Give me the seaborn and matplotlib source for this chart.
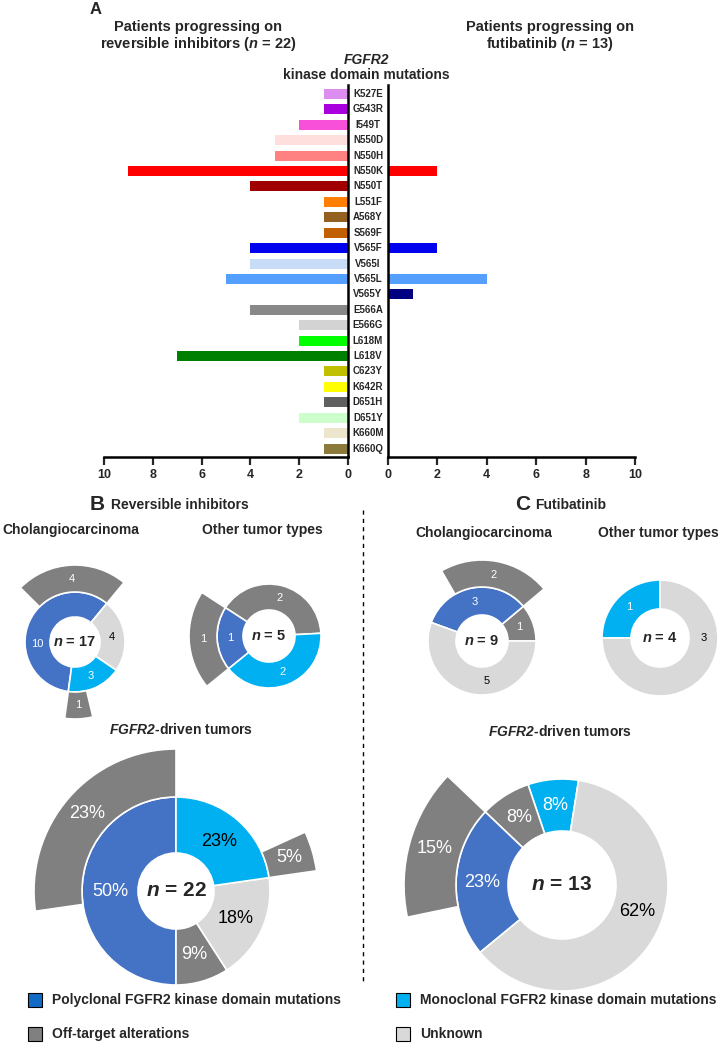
import matplotlib
matplotlib.use('Agg')
import matplotlib.pyplot as plt
from matplotlib.patches import Wedge, Rectangle
from matplotlib.transforms import blended_transform_factory
import numpy as np
import pandas as pd
import seaborn as sns

# Painel A: mutacoes no dominio quinase de FGFR2
mutations = ['K527E', 'G543R', 'I549T', 'N550D', 'N550H', 'N550K', 'N550T', 'L551F',
             'A568Y', 'S569F', 'V565F', 'V565I', 'V565L', 'V565Y', 'E566A', 'E566G',
             'L618M', 'L618V', 'C623Y', 'K642R', 'D651H', 'D651Y', 'K660M', 'K660Q']
reversible = [1, 1, 2, 3, 3, 9, 4, 1, 1, 1, 4, 4, 5, 0, 4, 2, 2, 7, 1, 1, 1, 2, 1, 1]
futibatinib = [0, 0, 0, 0, 0, 2, 0, 0, 0, 0, 2, 0, 4, 1, 0, 0, 0, 0, 0, 0, 0, 0, 0, 0]
mut_colors = ['#DD8CF0', '#AA00DD', '#F850D8', '#FFDEDE', '#FF8282', '#FF0000', '#A00000', '#FF8000',
              '#946020', '#C06000', '#0000EE', '#C8DCF8', '#55A0FF', '#000080', '#888888', '#D3D3D3',
              '#00FF00', '#008000', '#C0C000', '#FFFF00', '#606060', '#CCFFCC', '#EEE6CC', '#8B7A3A']

# Paineis B e C: categorias
cat_colors = {'poly': '#4472C4', 'mono': '#00B0F0', 'off': '#808080', 'unk': '#D9D9D9'}

b_chol_counts = [10, 3, 4]
b_chol_cats = ['poly', 'mono', 'unk']
b_chol_ext = [4, 1]
b_chol_ext_on = ['poly', 'mono']

b_other_counts = [2, 1, 2]
b_other_cats = ['off', 'poly', 'mono']
b_other_ext = [1]
b_other_ext_on = ['poly']

c_chol_counts = [1, 3, 5]
c_chol_cats = ['off', 'poly', 'unk']
c_chol_ext = [2]
c_chol_ext_on = ['poly']

c_other_counts = [1, 3]
c_other_cats = ['mono', 'unk']
c_other_ext = []
c_other_ext_on = []

b_all_counts = [11, 2, 4, 5]
b_all_cats = ['poly', 'off', 'unk', 'mono']
b_all_labels = ['50%', '9%', '18%', '23%']
b_all_ext = [6, 1]          # largura angular como aparece na figura
b_all_ext_on = ['poly', 'mono']
b_all_ext_labels = ['23%', '5%']

c_all_counts = [1, 1, 3, 8]
c_all_cats = ['mono', 'off', 'poly', 'unk']
c_all_labels = ['8%', '8%', '23%', '62%']
c_all_ext = [2]
c_all_ext_on = ['poly']
c_all_ext_labels = ['15%']

legend_labels = ['Polyclonal FGFR2 kinase domain mutations', 'Monoclonal FGFR2 kinase domain mutations',
                 'Off-target alterations', 'Unknown']
legend_colors = ['#116AC4', '#00B0F0', '#808080', '#D9D9D9']

sns.set_style('white')
plt.rcParams['font.family'] = ['Liberation Sans', 'DejaVu Sans']
plt.rcParams['mathtext.fontset'] = 'custom'
plt.rcParams['mathtext.rm'] = 'Liberation Sans'
plt.rcParams['mathtext.it'] = 'Liberation Sans:italic'
plt.rcParams['mathtext.bf'] = 'Liberation Sans:bold'
plt.rcParams['mathtext.bfit'] = 'Liberation Sans:italic:bold'

W, H = 727, 1059
fig = plt.figure(figsize=(W / 100, H / 100), dpi=100)


def Y(py):
    return H - py


# eixos do painel A (posicoes em pixels)
top, bot = 85, 457
axL = fig.add_axes([104 / W, 1 - bot / H, (348 - 104) / W, (bot - top) / H])
axR = fig.add_axes([388 / W, 1 - bot / H, (635 - 388) / W, (bot - top) / H])

df = pd.DataFrame({'mutation': mutations, 'reversible': reversible, 'futibatinib': futibatinib})
for ax, col in [(axL, 'reversible'), (axR, 'futibatinib')]:
    sns.barplot(data=df, x=col, y='mutation', hue='mutation', palette=mut_colors, legend=False,
                ax=ax, width=0.65, saturation=1, linewidth=0)
    ax.set_ylim(23.55, -0.58)
    ax.set_xticks(range(0, 11, 2))
    ax.set_xticklabels([str(v) for v in range(0, 11, 2)], fontsize=9, fontweight='bold')
    ax.set_yticks([])
    ax.set_xlabel('')
    ax.set_ylabel('')
    ax.tick_params(axis='x', length=6, width=1.6, direction='out', pad=3, bottom=True)
    ax.spines['top'].set_visible(False)
    for s in ax.spines.values():
        s.set_linewidth(1.8)
        s.set_color('black')
    ax.set_facecolor('none')

axL.set_xlim(10, 0)
axL.spines['left'].set_visible(False)
axR.set_xlim(0, 10)
axR.spines['right'].set_visible(False)

trans = blended_transform_factory(axL.transAxes, axL.transData)
for i, m in enumerate(mutations):
    axL.text((368 - 104) / (348 - 104), i, m, transform=trans, ha='center', va='center',
             fontsize=7, fontweight='bold', clip_on=False)

# eixo de desenho em pixels para titulos e paineis B/C
axD = fig.add_axes([0, 0, 1, 1])
axD.set_xlim(0, W)
axD.set_ylim(0, H)
axD.axis('off')
axD.set_facecolor('none')

axD.text(96, Y(9), 'A', fontsize=12, fontweight='bold', ha='center', va='center')
axD.text(198, Y(27), 'Patients progressing on', fontsize=10.5, fontweight='bold', ha='center', va='center')
axD.text(198, Y(44), r'reversible inhibitors ($\mathbfit{n}$ = 22)', fontsize=10.5, fontweight='bold',
         ha='center', va='center')
axD.text(550, Y(27), 'Patients progressing on', fontsize=10.5, fontweight='bold', ha='center', va='center')
axD.text(550, Y(44), r'futibatinib ($\mathbfit{n}$ = 13)', fontsize=10.5, fontweight='bold',
         ha='center', va='center')
axD.text(366, Y(60), 'FGFR2', fontsize=10, fontweight='bold', fontstyle='italic', ha='center', va='center')
axD.text(366, Y(75), 'kinase domain mutations', fontsize=10, fontweight='bold', ha='center', va='center')

axD.text(97, Y(505), 'B', fontsize=15, fontweight='bold', ha='center', va='center')
axD.text(111, Y(505), 'Reversible inhibitors', fontsize=10, fontweight='bold', ha='left', va='center')
axD.text(523, Y(505), 'C', fontsize=15, fontweight='bold', ha='center', va='center')
axD.text(535, Y(505), 'Futibatinib', fontsize=10, fontweight='bold', ha='left', va='center')

for x, y, t in [(71, 530, 'Cholangiocarcinoma'), (262, 530, 'Other tumor types'),
                (484, 533, 'Cholangiocarcinoma'), (658, 533, 'Other tumor types')]:
    axD.text(x, Y(y), t, fontsize=10, fontweight='bold', ha='center', va='center')
for x, y in [(181, 730), (560, 731)]:
    axD.text(x, Y(y), r'$\mathbfit{FGFR2}$-driven tumors', fontsize=10, fontweight='bold',
             ha='center', va='center')

axD.plot([363, 363], [Y(510), Y(985)], color='black', lw=1, ls=(0, (3, 3)))


def donut(cx, cy, counts, cats, ext, ext_on, labels, ext_labels, r_in, r_out, r_ext, start,
          fs, ctext, cfs, lab_colors, lab_ang=None):
    deg = 360 / sum(counts)
    yc = Y(cy)
    seg_start = {}
    a = start
    rm = (r_in + r_out) / 2
    for k, (v, c) in enumerate(zip(counts, cats)):
        a2 = a + v * deg
        axD.add_patch(Wedge((cx, yc), r_out, a, a2, width=r_out - r_in, facecolor=cat_colors[c],
                            edgecolor='white', linewidth=1.2))
        seg_start[c] = a
        mid = (a + a2) / 2
        if lab_ang is not None and lab_ang[k] is not None:
            mid = lab_ang[k]
        axD.text(cx + rm * np.cos(np.radians(mid)), yc + rm * np.sin(np.radians(mid)), labels[k],
                 fontsize=fs, color=lab_colors[k], ha='center', va='center')
        a = a2
    re = (r_out + r_ext) / 2
    for v, on, lab in zip(ext, ext_on, ext_labels):
        a1 = seg_start[on]
        a2 = a1 + v * deg
        axD.add_patch(Wedge((cx, yc), r_ext, a1, a2, width=r_ext - r_out, facecolor=cat_colors['off'],
                            edgecolor='white', linewidth=1.2))
        mid = (a1 + a2) / 2
        axD.text(cx + re * np.cos(np.radians(mid)), yc + re * np.sin(np.radians(mid)), lab,
                 fontsize=fs, color='white', ha='center', va='center')
    axD.text(cx, yc, ctext, fontsize=cfs, fontweight='bold', ha='center', va='center')


donut(75, 642, b_chol_counts, b_chol_cats, b_chol_ext, b_chol_ext_on,
      [str(v) for v in b_chol_counts], [str(v) for v in b_chol_ext],
      25, 50, 77, 50.5, 8, r'$\mathbfit{n}$ = 17', 10.5, ['white', 'white', 'black'], [183, None, None])
donut(269, 636, b_other_counts, b_other_cats, b_other_ext, b_other_ext_on,
      [str(v) for v in b_other_counts], [str(v) for v in b_other_ext],
      26, 52, 80, 3, 8, r'$\mathbfit{n}$ = 5', 10.5, ['white', 'white', 'white'])
donut(482, 641, c_chol_counts, c_chol_cats, c_chol_ext, c_chol_ext_on,
      [str(v) for v in c_chol_counts], [str(v) for v in c_chol_ext],
      26, 54, 81, 0, 8, r'$\mathbfit{n}$ = 9', 10.5, ['white', 'white', 'black'], [None, None, 277])
donut(660, 638, c_other_counts, c_other_cats, c_other_ext, c_other_ext_on,
      [str(v) for v in c_other_counts], [],
      29, 58, 58, 90, 8, r'$\mathbfit{n}$ = 4', 10.5, ['white', 'black'], [None, 0])
donut(176, 891, b_all_counts, b_all_cats, b_all_ext, b_all_ext_on, b_all_labels, b_all_ext_labels,
      38, 94, 142, 90, 13, r'$\mathbfit{n}$ = 22', 15, ['white', 'white', 'black', 'black'])
donut(562, 885, c_all_counts, c_all_cats, c_all_ext, c_all_ext_on, c_all_labels, c_all_ext_labels,
      54, 106, 158, 81, 13, r'$\mathbfit{n}$ = 13', 15, ['white', 'white', 'white', 'black'],
      [None, None, None, 341])

# legenda
for (x, y), lab, col in zip([(28, 1000), (396, 1000), (28, 1034), (396, 1034)], legend_labels, legend_colors):
    axD.add_patch(Rectangle((x, Y(y) - 7), 14, 14, facecolor=col, edgecolor='black', linewidth=0.8))
    axD.text(x + 24, Y(y), lab, fontsize=10, fontweight='bold', ha='left', va='center')

fig.savefig('out.png', dpi=100)
